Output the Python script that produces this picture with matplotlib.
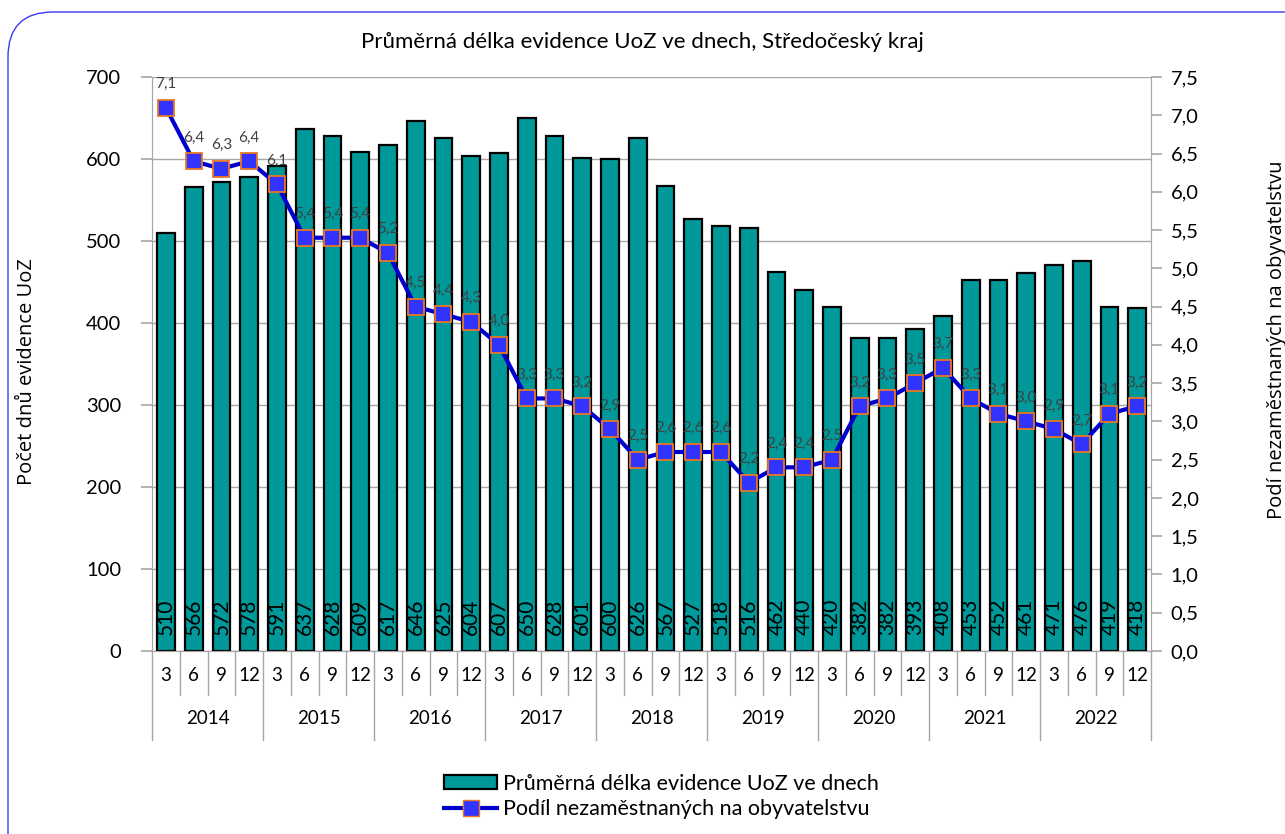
import numpy as np
import matplotlib.pyplot as plt
from matplotlib.patches import FancyBboxPatch, Patch
from matplotlib.lines import Line2D
from matplotlib.ticker import FuncFormatter

plt.rcParams['font.family'] = ['Lato', 'DejaVu Sans']

years = ['2014', '2015', '2016', '2017', '2018', '2019', '2020', '2021', '2022']
months = ['3', '6', '9', '12']
days = [510, 566, 572, 578, 591, 637, 628, 609, 617, 646, 625, 604,
        607, 650, 628, 601, 600, 626, 567, 527, 518, 516, 462, 440,
        420, 382, 382, 393, 408, 453, 452, 461, 471, 476, 419, 418]
share = [7.1, 6.4, 6.3, 6.4, 6.1, 5.4, 5.4, 5.4, 5.2, 4.5, 4.4, 4.3,
         4.0, 3.3, 3.3, 3.2, 2.9, 2.5, 2.6, 2.6, 2.6, 2.2, 2.4, 2.4,
         2.5, 3.2, 3.3, 3.5, 3.7, 3.3, 3.1, 3.0, 2.9, 2.7, 3.1, 3.2]

bar_name = 'Průměrná délka evidence UoZ ve dnech'
line_name = 'Podíl nezaměstnaných na obyvatelstvu'
right_label = 'Podí nezaměstnaných na obyvatelstvu'

teal = '#009999'
blue = '#0000CC'
grid_c = '#A6A6A6'

fig = plt.figure(figsize=(12.85, 8.34), dpi=100)
ax = fig.add_axes([0.1183, 0.2194, 0.7775, 0.6883])
ax2 = ax.twinx()

# rounded frame around the chart
frame = FancyBboxPatch((8 / 1285, -0.1), 1.2, 0.1 + (834 - 12) / 834,
                       boxstyle='round,pad=0,rounding_size=0.035',
                       transform=fig.transFigure, facecolor='none',
                       edgecolor='#3B3BEF', linewidth=1.0, mutation_aspect=1285 / 834)
fig.patches.append(frame)

n = len(days)
x = np.arange(n)
ax.bar(x, days, width=0.64, color=teal, edgecolor='black', linewidth=1.6, zorder=3)
for xi, v in zip(x, days):
    ax.text(xi, 20, str(v), rotation=90, ha='center', va='bottom',
            fontsize=15, color='black', zorder=4)

ax.set_xlim(-0.5, n - 0.5)
ax.set_ylim(0, 700)
ax.set_yticks(range(0, 701, 100))
ax.yaxis.grid(True, color=grid_c, linewidth=1, zorder=0)
ax.set_axisbelow(True)
ax.set_xticks([])
ax.spines['top'].set_visible(False)
ax2.spines['top'].set_visible(False)
for s in ['left', 'right', 'bottom']:
    ax.spines[s].set_color(grid_c)
    ax2.spines[s].set_color(grid_c)
ax.tick_params(axis='y', labelsize=14.5, color=grid_c, length=8, width=1.2, pad=14)
ax.set_ylabel('Počet dnů evidence UoZ', fontsize=14.5, family=['Open Sans', 'DejaVu Sans'])
ax.yaxis.set_label_coords((37 - 152) / 999, (651 - 372) / 574)

ax2.plot(x, share, color=blue, linewidth=3, marker='s', markersize=12,
         markerfacecolor='#3333FF', markeredgecolor='#E87722', markeredgewidth=1.3,
         zorder=5)
for xi, v in zip(x, share):
    ax2.annotate(f'{v:.1f}'.replace('.', ','), (xi, v), xytext=(0, 12),
                 textcoords='offset points', ha='center', va='bottom',
                 fontsize=11, color='#404040')
ax2.set_ylim(0, 7.5)
ax2.set_yticks(np.arange(0, 7.51, 0.5))
ax2.yaxis.set_major_formatter(FuncFormatter(lambda v, p: f'{v:.1f}'.replace('.', ',')))
ax2.tick_params(axis='y', labelsize=14.5, color=grid_c, length=8, width=1.2, pad=6)
ax2.set_ylabel(right_label, fontsize=14.5, family=['Open Sans', 'DejaVu Sans'])
ax2.yaxis.set_label_coords((1267 - 152) / 999, (651 - 340) / 574)
ax2.set_xlim(-0.5, n - 0.5)

# two-level category axis
trans = ax.get_xaxis_transform()
month_y = -24 / 574
year_y = -67 / 574
sep_m = -44 / 574
sep_y = -89 / 574
for i in range(n):
    ax.text(i, month_y, months[i % 4], transform=trans, ha='center', va='center',
            fontsize=13.5)
for i in range(n + 1):
    bottom = sep_y if i % 4 == 0 else sep_m
    ax.plot([i - 0.5, i - 0.5], [0, bottom], transform=trans, color=grid_c,
            linewidth=1, clip_on=False)
for j, yr in enumerate(years):
    ax.text(j * 4 + 1.5, year_y, yr, transform=trans, ha='center', va='center',
            fontsize=13.5)

fig.suptitle('Průměrná délka evidence UoZ ve dnech, Středočeský kraj',
             y=1 - 42 / 834, va='center', fontsize=16)

handles = [Patch(facecolor=teal, edgecolor='black', linewidth=1.6),
           Line2D([], [], color=blue, linewidth=3, marker='s', markersize=12,
                  markerfacecolor='#3333FF', markeredgecolor='#E87722')]
fig.legend(handles, [bar_name, line_name], loc='center', bbox_to_anchor=(0.515, 0.045),
           frameon=False, fontsize=15.5, handlelength=2.45, handletextpad=0.3,
           labelspacing=0.25, handleheight=0.6)

fig.savefig('out.png', dpi=100)
